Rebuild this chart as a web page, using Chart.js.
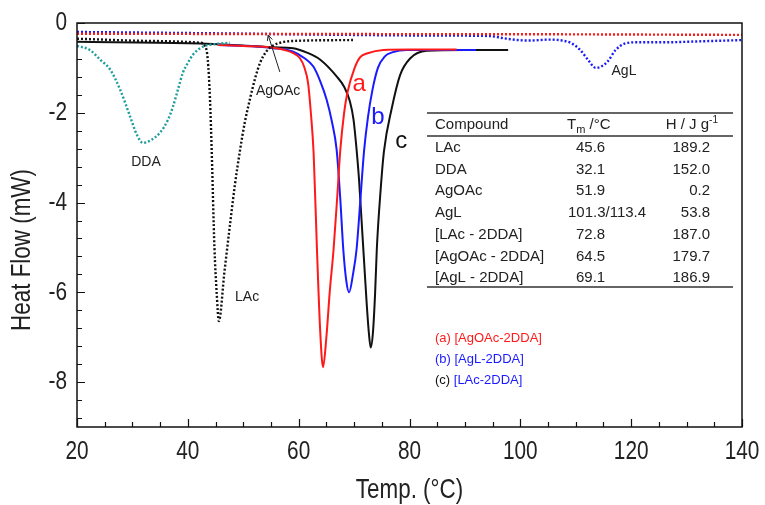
<!DOCTYPE html>
<html>
<head>
<meta charset="utf-8">
<script src="https://cdn.jsdelivr.net/npm/chart.js@4.4.1/dist/chart.umd.min.js"></script>
<style>
  html, body { margin: 0; padding: 0; background: #fff; }
</style>
</head>
<body>
<canvas id="dsc" width="765" height="505"></canvas>
<script>
// DSC traces, [temperature °C, heat flow mW]
const agoacTrace = [[20, -0.24], [51.9, -0.245], [100, -0.25], [140, -0.265]];
const aglTrace = [[20, -0.2], [45, -0.23], [65, -0.26], [85, -0.28], [94.5, -0.29], [97, -0.34], [99.5, -0.38],
    [102, -0.39], [105, -0.37], [107.5, -0.39], [109.2, -0.45], [110.8, -0.6], [112.4, -0.85], [113.6, -1.0],
    [114.6, -0.97], [115.8, -0.85], [117.2, -0.6], [118.8, -0.46], [121, -0.43], [126, -0.43], [132, -0.41], [140, -0.38]];
const ddaTrace = [[20, -0.51], [22.3, -0.6], [24.2, -0.82], [26, -1.04], [27.8, -1.49], [29.6, -2.09], [30.8, -2.49],
    [31.9, -2.67], [33.2, -2.62], [35, -2.44], [36.4, -2.16], [37.3, -1.87], [38.2, -1.49], [39.1, -1.11], [40, -0.89],
    [40.9, -0.71], [42, -0.58], [43.1, -0.51], [44.9, -0.47], [47.6, -0.44]];
const lacTrace = [[20, -0.35], [33.2, -0.4], [42.2, -0.44], [43.1, -0.51], [43.6, -0.82], [44.0, -1.7], [44.3, -2.82],
    [44.8, -5.0], [45.2, -6.0], [45.6, -6.64], [46.6, -5.55], [47.6, -4.5], [48.5, -3.6], [49.4, -2.85], [50.3, -2.2],
    [51.2, -1.7], [52.1, -1.25], [53, -0.9], [54.2, -0.63], [55.4, -0.5], [57, -0.43], [59, -0.4], [69.8, -0.38]];
const curveA = [[45.4, -0.49], [50, -0.51], [55.4, -0.55], [58, -0.62], [59, -0.67], [60.2, -0.78], [61, -0.98],
    [61.7, -1.34], [62.2, -2.0], [62.7, -2.9], [63.3, -5.04], [63.9, -6.9], [64.4, -7.67], [65.0, -7.0], [65.6, -6.0],
    [66.3, -5.04], [67.0, -3.8], [67.5, -2.85], [68.2, -2.0], [68.8, -1.55], [70.1, -1.0], [71.1, -0.76], [72.3, -0.68],
    [75.3, -0.6], [80, -0.59], [88.5, -0.59]];
const curveB = [[45.4, -0.49], [50, -0.51], [55.4, -0.56], [59, -0.64], [61, -0.78], [62.65, -0.97], [63.9, -1.3],
    [65.05, -1.71], [66.0, -2.2], [66.85, -2.82], [67.5, -3.9], [68.05, -5.04], [68.6, -5.75], [69.1, -6.0],
    [69.8, -5.6], [70.45, -5.04], [71.1, -4.0], [71.8, -2.85], [72.5, -2.1], [73.3, -1.5], [74.3, -1.0],
    [75.5, -0.75], [77, -0.65], [79.5, -0.6], [92, -0.6]];
const curveC = [[20, -0.42], [40, -0.45], [50, -0.5], [55.4, -0.54], [59, -0.56], [61.5, -0.66], [63.9, -0.82],
    [66.85, -1.19], [68.2, -1.42], [69.25, -1.75], [69.9, -2.15], [70.4, -2.75], [70.9, -3.5], [71.35, -4.4],
    [71.8, -5.3], [72.3, -6.3], [72.7, -6.95], [73.0, -7.23], [73.4, -6.9], [73.8, -6.0], [74.1, -5.04],
    [74.8, -3.7], [75.4, -2.85], [76.8, -1.9], [78.3, -1.16], [80.1, -0.79], [83.1, -0.62], [90, -0.6], [97.8, -0.6]];

const tempRange = [20, 140];
const flowRange = [-9, 0];
const xTickLabels = [20, 40, 60, 80, 100, 120, 140];
const yTickLabels = [0, -2, -4, -6, -8];

const tableHead = ['Compound', 'Tm /°C', 'H / J g-1'];
const tableCompounds = ['LAc', 'DDA', 'AgOAc', 'AgL', '[LAc - 2DDA]', '[AgOAc - 2DDA]', '[AgL - 2DDA]'];
const tableTm = ['45.6', '32.1', '51.9', '101.3/113.4', '72.8', '64.5', '69.1'];
const tableH = ['189.2', '152.0', '0.2', '53.8', '187.0', '179.7', '186.9'];

const RED = '#ff1a1a';
const BLUE = '#1a1aff';
const TEAL = '#1f9c9c';
const INK = '#111';
const SANS = '"Liberation Sans", Arial, sans-serif';

const series = [
    { pts: agoacTrace, color: RED, dash: [2, 2], width: 2.4 },
    { pts: aglTrace, color: BLUE, dash: [2, 2], width: 2.4 },
    { pts: ddaTrace, color: TEAL, dash: [2, 2], width: 2.4 },
    { pts: lacTrace, color: INK, dash: [2, 2], width: 2.4 },
    { pts: curveA, color: RED, dash: [], width: 2 },
    { pts: curveB, color: BLUE, dash: [], width: 2 },
    { pts: curveC, color: INK, dash: [], width: 2 },
];

// no narrow face installed, so squeeze Liberation Sans horizontally
const narrowText = (ctx, str, px, py, size, align, rot = 0) => {
    ctx.save();
    ctx.translate(px, py);
    ctx.rotate(rot);
    ctx.scale(0.8, 1);
    ctx.font = `${size}px ${SANS}`;
    ctx.fillStyle = '#222';
    ctx.textAlign = align;
    ctx.textBaseline = 'middle';
    ctx.fillText(str, 0, 0);
    ctx.restore();
};

// frame, inward ticks, tick labels and axis titles (Origin style)
const framePlugin = {
    id: 'frame',
    afterDatasetsDraw(chart) {
        const { ctx, chartArea: a, scales: { x, y } } = chart;
        ctx.save();
        ctx.strokeStyle = INK;
        ctx.lineWidth = 1.5;
        ctx.strokeRect(a.left, a.top, a.right - a.left, a.bottom - a.top);
        ctx.beginPath();
        for (let t = tempRange[0]; t <= tempRange[1]; t += 5) {
            const px = Math.round(x.getPixelForValue(t)) + 0.5;
            const len = t % 20 === 0 ? 8 : 5;
            ctx.moveTo(px, a.bottom);
            ctx.lineTo(px, a.bottom - len);
        }
        for (let i = 0; i * 0.4 < -flowRange[0]; i++) {
            const py = Math.round(y.getPixelForValue(-0.4 * i)) + 0.5;
            const len = i % 5 === 0 ? 8 : 5;
            ctx.moveTo(a.left, py);
            ctx.lineTo(a.left + len, py);
        }
        ctx.lineWidth = 1.2;
        ctx.stroke();

        x.ticks.forEach((t) => narrowText(ctx, String(t.value), x.getPixelForValue(t.value), a.bottom + 25, 26, 'center'));
        y.ticks.forEach((t) => narrowText(ctx, String(t.value), a.left - 10, y.getPixelForValue(t.value), 26, 'right'));
        narrowText(ctx, 'Temp. (°C)', (a.left + a.right) / 2, 490, 28, 'center');
        narrowText(ctx, 'Heat Flow (mW)', 22, 250, 28, 'center', -Math.PI / 2);
        ctx.restore();
    },
};

const notesPlugin = {
    id: 'notes',
    afterDraw(chart) {
        const { ctx, scales: { x, y } } = chart;
        const at = (t, f) => [x.getPixelForValue(t), y.getPixelForValue(f)];
        const text = (str, px, py, font, color, align = 'center', base = 'middle') => {
            ctx.font = font;
            ctx.fillStyle = color;
            ctx.textAlign = align;
            ctx.textBaseline = base;
            ctx.fillText(str, px, py);
        };
        ctx.save();

        // curve labels
        text('DDA', ...at(32.45, -3.09), `14px ${SANS}`, '#222');
        text('LAc', ...at(50.7, -6.11), `14px ${SANS}`, '#222');
        text('AgOAc', ...at(56.3, -1.51), `14px ${SANS}`, '#222');
        text('AgL', ...at(118.7, -1.07), `14px ${SANS}`, '#222');
        text('a', ...at(70.9, -1.36), `24px ${SANS}`, RED);
        text('b', ...at(74.3, -2.1), `24px ${SANS}`, BLUE);
        text('c', ...at(78.5, -2.64), `24px ${SANS}`, INK);

        // arrow to the AgOAc trace
        const [ax0, ay0] = at(56.6, -1.09);
        const [ax1, ay1] = at(54.5, -0.27);
        const ang = Math.atan2(ay1 - ay0, ax1 - ax0);
        ctx.strokeStyle = '#222';
        ctx.lineWidth = 1;
        ctx.beginPath();
        ctx.moveTo(ax0, ay0);
        ctx.lineTo(ax1, ay1);
        ctx.moveTo(ax1 - 6 * Math.cos(ang - 0.45), ay1 - 6 * Math.sin(ang - 0.45));
        ctx.lineTo(ax1, ay1);
        ctx.lineTo(ax1 - 6 * Math.cos(ang + 0.45), ay1 - 6 * Math.sin(ang + 0.45));
        ctx.stroke();

        // data table
        const tl = 427, tr = 733;
        ctx.strokeStyle = '#333';
        ctx.lineWidth = 1.5;
        ctx.beginPath();
        [113, 136, 287].forEach((ly) => { ctx.moveTo(tl, ly); ctx.lineTo(tr, ly); });
        ctx.stroke();

        const f15 = `15px ${SANS}`;
        text(tableHead[0], 435, 129, f15, '#222', 'left', 'alphabetic');
        text('T', 567, 129, f15, '#222', 'left', 'alphabetic');
        ctx.font = f15;
        const tw = ctx.measureText('T').width;
        text('m', 567 + tw, 133, `11px ${SANS}`, '#222', 'left', 'alphabetic');
        ctx.font = `11px ${SANS}`;
        const mw = ctx.measureText('m').width;
        text(' /°C', 567 + tw + mw, 129, f15, '#222', 'left', 'alphabetic');
        ctx.font = `10px ${SANS}`;
        const supW = ctx.measureText('-1').width;
        text('-1', 718, 123, `10px ${SANS}`, '#222', 'right', 'alphabetic');
        text('H / J g', 718 - supW, 129, f15, '#222', 'right', 'alphabetic');

        tableCompounds.forEach((name, i) => {
            const by = 152 + i * 21.7;
            text(name, 435, by, f15, '#222', 'left', 'alphabetic');
            text(tableTm[i], tableTm[i].length > 5 ? 568 : 576, by, f15, '#222', 'left', 'alphabetic');
            text(tableH[i], 710, by, f15, '#222', 'right', 'alphabetic');
        });

        // colour key
        const f13 = `13px ${SANS}`;
        const keyLine = (parts, ky) => {
            let kx = 435;
            ctx.font = f13;
            parts.forEach(([s, c]) => {
                text(s, kx, ky, f13, c, 'left', 'middle');
                kx += ctx.measureText(s).width;
            });
        };
        keyLine([['(a) [AgOAc-2DDA]', RED]], 338);
        keyLine([['(b) [AgL-2DDA]', BLUE]], 359);
        keyLine([['(c) ', INK], ['[LAc-2DDA]', BLUE]], 380);

        ctx.restore();
    },
};

new Chart(document.getElementById('dsc'), {
    type: 'scatter',
    data: {
        datasets: series.map((s) => ({
            data: s.pts.map(([t, f]) => ({ x: t, y: f })),
            showLine: true,
            borderColor: s.color,
            borderWidth: s.width,
            borderDash: s.dash,
            pointRadius: 0,
            cubicInterpolationMode: 'monotone',
            fill: false,
        })),
    },
    options: {
        responsive: false,
        animation: false,
        layout: { padding: { top: 23, right: 23, bottom: 0, left: 0 } },
        plugins: { legend: { display: false }, tooltip: { enabled: false } },
        scales: {
            x: {
                type: 'linear',
                min: tempRange[0],
                max: tempRange[1],
                grid: { display: false, drawTicks: false },
                border: { display: false },
                afterBuildTicks: (s) => { s.ticks = xTickLabels.map((v) => ({ value: v })); },
                afterFit: (s) => { s.height = 78; },
                ticks: { display: false },
            },
            y: {
                type: 'linear',
                min: flowRange[0],
                max: flowRange[1],
                grid: { display: false, drawTicks: false },
                border: { display: false },
                afterBuildTicks: (s) => { s.ticks = yTickLabels.map((v) => ({ value: v })); },
                afterFit: (s) => { s.width = 77; },
                ticks: { display: false },
            },
        },
    },
    plugins: [framePlugin, notesPlugin],
});
</script>
</body>
</html>
